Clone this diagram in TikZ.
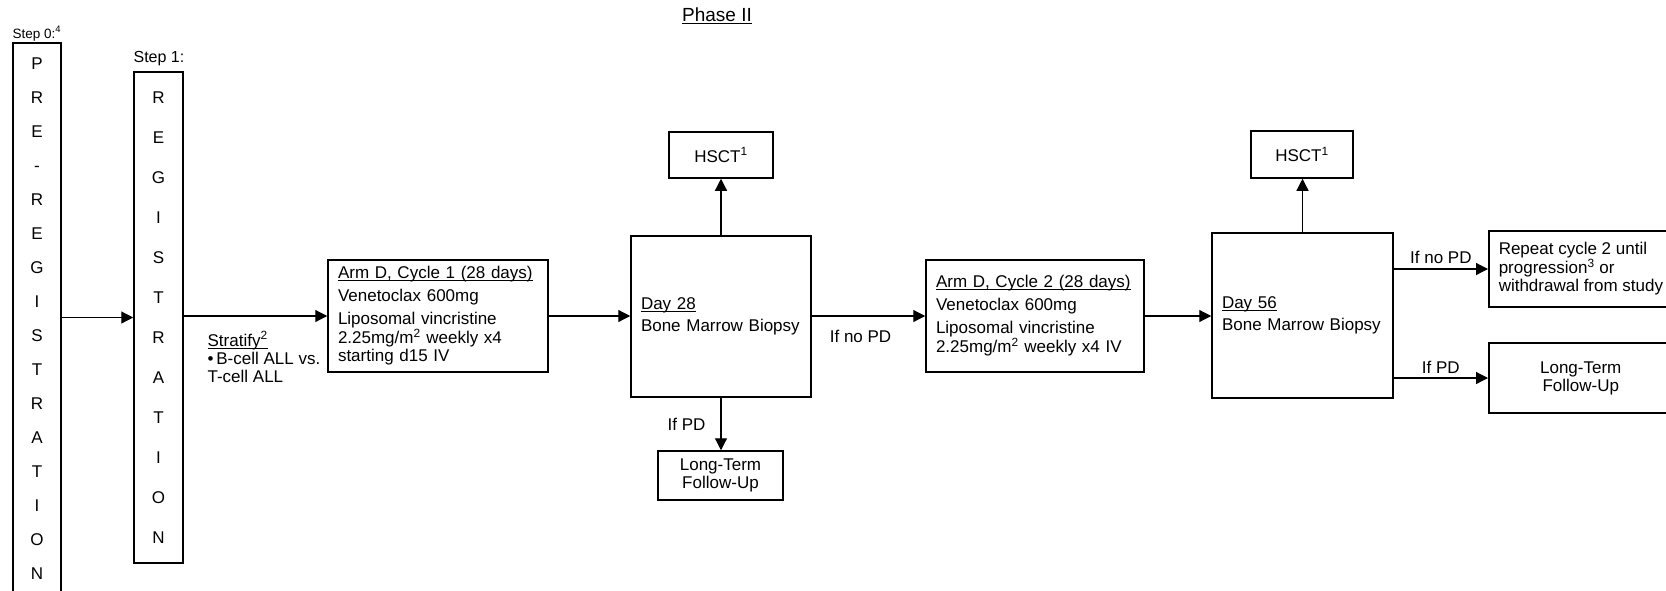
\documentclass[tikz,border=0pt]{standalone}
\usepackage{fontspec}
\setmainfont{Liberation Sans}
\usetikzlibrary{arrows.meta}
\newlength\ulwd
\newcommand{\ulin}[1]{\settowidth{\ulwd}{#1}\rlap{\rule[-2.5pt]{\ulwd}{1.1pt}}#1}

\begin{document}
\begin{tikzpicture}[x=1pt,y=-1pt,font=\fontsize{17}{18}\selectfont,line width=1.2pt,
    >={Triangle[length=12pt,width=12pt]},
    box/.style={draw,line width=1.5pt,inner sep=0pt,align=center},
    tbox/.style={draw,line width=1.5pt,inner xsep=10pt,inner ysep=0pt,align=left},
    lbl/.style={inner sep=0pt}]
    \useasboundingbox (0,0) rectangle (1666,590);
    \node[lbl,font=\fontsize{19}{20}\selectfont] (title) at (717,16) {\ulin{Phase II}};
    \node[lbl,anchor=base west,font=\fontsize{13.5}{15}\selectfont] (s0) at (12,38) {Step 0:\textsuperscript{4}};
    \node[lbl,anchor=base west,font=\fontsize{16}{18}\selectfont] (s1) at (133,62) {Step 1:};
    \node[box,minimum width=48,minimum height=552,font=\fontsize{17}{34}\selectfont] (pre) at (37,319)
        {P\\R\\E\\-\\R\\E\\G\\I\\S\\T\\R\\A\\T\\I\\O\\N};
    \node[box,minimum width=49,minimum height=491,font=\fontsize{17}{40}\selectfont] (reg) at (158.5,317.5)
        {R\\E\\G\\I\\S\\T\\R\\A\\T\\I\\O\\N};
    \node[tbox,text width=200,minimum height=112] (cyc1) at (438,316)
        {\ulin{Arm D, Cycle 1 (28 days)}\\[5pt]Venetoclax 600mg\\[5pt]Liposomal vincristine\\2.25mg/m\textsuperscript{2} weekly x4\\starting d15 IV};
    \node[lbl,anchor=north west,align=left] (strat) at (207,331)
        {\ulin{Stratify\textsuperscript{2}}\\\textbullet\,B-cell ALL vs.\\T-cell ALL};
    \node[tbox,text width=160,minimum height=161] (day28) at (721,316.5)
        {\ulin{Day 28}\\[4pt]Bone Marrow Biopsy};
    \node[box,minimum width=104,minimum height=46] (hsct1) at (721,155) {HSCT\textsuperscript{1}};
    \node[box,minimum width=125,minimum height=49] (ltfu1) at (720.5,475.5) {Long-Term\\Follow-Up};
    \node[tbox,text width=198,minimum height=112] (cyc2) at (1035,316)
        {\ulin{Arm D, Cycle 2 (28 days)}\\[5pt]Venetoclax 600mg\\[5pt]Liposomal vincristine\\2.25mg/m\textsuperscript{2} weekly x4 IV};
    \node[tbox,text width=161,minimum height=165] (day56) at (1302.5,315.5)
        {\ulin{Day 56}\\[4pt]Bone Marrow Biopsy};
    \node[box,minimum width=102,minimum height=47] (hsct2) at (1302,154.5) {HSCT\textsuperscript{1}};
    \node[tbox,anchor=west,minimum width=184,minimum height=76] (rep) at (1488,269)
        {Repeat cycle 2 until\\progression\textsuperscript{3} or\\withdrawal from study};
    \node[box,anchor=west,minimum width=184,minimum height=70] (ltfu2) at (1488,378) {Long-Term\\Follow-Up};
    \draw[->] (pre.east |- reg.west) -- (reg.west);
    \draw[->] (reg.east |- cyc1.west) -- (cyc1.west);
    \draw[->] (cyc1.east) -- (cyc1.east -| day28.west);
    \draw[->] (day28.north) -- (hsct1.south);
    \draw[->] (day28.south) -- node[lbl,left=15pt]{If PD} (day28.south |- ltfu1.north);
    \draw[->] (day28.east |- cyc2.west) -- node[lbl,below=14pt,pos=0.43]{If no PD} (cyc2.west);
    \draw[->] (cyc2.east) -- (cyc2.east -| day56.west);
    \draw[->] (day56.north) -- (day56.north |- hsct2.south);
    \draw[->] (day56.east |- rep.west) -- node[lbl,above=5pt]{If no PD} (rep.west);
    \draw[->] (day56.east |- ltfu2.west) -- node[lbl,above=4pt]{If PD} (ltfu2.west);
\end{tikzpicture}
\end{document}
